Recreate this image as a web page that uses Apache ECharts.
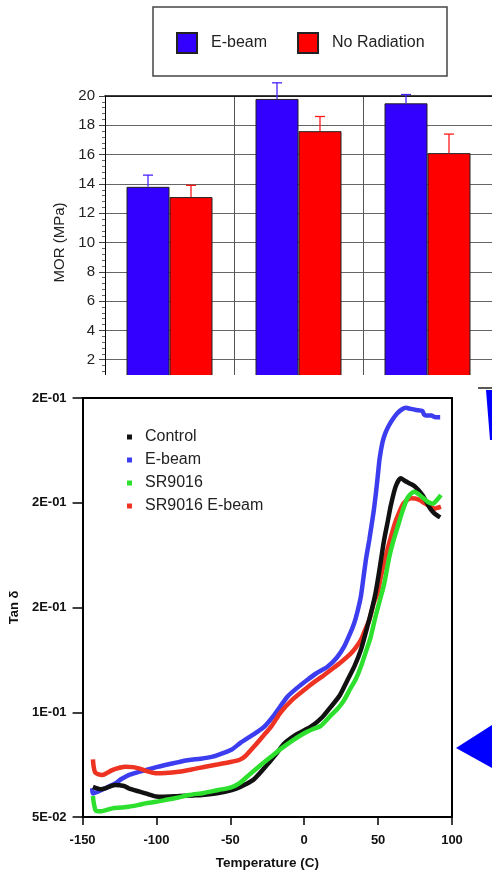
<!DOCTYPE html>
<html>
<head>
<meta charset="utf-8">
<script src="https://cdn.jsdelivr.net/npm/echarts@6/dist/echarts.min.js"></script>
<style>
  html, body { margin: 0; padding: 0; background: #fff; }
  #chart { width: 492px; height: 871px; }
</style>
</head>
<body>
<div id="chart"></div>
<script>
// ---- MOR bar data (MPa) ----
const categories = ['1', '2', '3'];
const ebeamMOR = [13.8, 19.8, 19.5];
const ebeamErr = [0.8, 1.1, 0.6];
const noRadMOR = [13.1, 17.6, 16.1];
const noRadErr = [0.8, 1.0, 1.3];

// ---- Tan delta vs temperature, [temperature (C), tan delta] ----
const tanTickLabels = ['5E-02', '1E-01', '2E-01', '2E-01', '2E-01'];

const controlTan = [
  [-143, 0.0644], [-138, 0.0633], [-134.7, 0.0637], [-128, 0.0653], [-122, 0.0648],
  [-118.8, 0.0637], [-112, 0.0622], [-107.5, 0.0613], [-100, 0.0598], [-96, 0.0597],
  [-85, 0.0600], [-75, 0.0603], [-69, 0.0605], [-60, 0.0612], [-53, 0.0621],
  [-46, 0.0635], [-40, 0.0655], [-34, 0.0680], [-25, 0.0750], [-18, 0.0810],
  [-13.6, 0.0850], [-5, 0.0895], [4.5, 0.0931], [12, 0.0975], [18, 0.1026],
  [24, 0.1080], [29.3, 0.1154], [34, 0.1220], [38.3, 0.1297], [42, 0.1390],
  [45, 0.1470], [48, 0.1560], [50, 0.1640], [52, 0.1730], [54, 0.1820],
  [56.5, 0.1910], [58.7, 0.1990], [62, 0.2080], [65.4, 0.2117], [68, 0.2105],
  [72, 0.2090], [75, 0.2077], [80, 0.2037], [85, 0.1975], [88, 0.1950], [92, 0.1930]
];

const ebeamTan = [
  [-143.5, 0.0637], [-143, 0.0612], [-140, 0.0620], [-134.7, 0.0637], [-128, 0.0660],
  [-124, 0.0680], [-118.8, 0.0700], [-112, 0.0715], [-107.5, 0.0724], [-100, 0.0738],
  [-94, 0.0748], [-85, 0.0762], [-78, 0.0772], [-70, 0.0778], [-62, 0.0788],
  [-55, 0.0805], [-49, 0.0822], [-43, 0.0855], [-37.5, 0.0880], [-32, 0.0905],
  [-27, 0.0931], [-20, 0.0990], [-11.4, 0.1074], [-5, 0.1115], [2, 0.1154],
  [8, 0.1185], [15.7, 0.1217], [22, 0.1260], [27, 0.1313], [31, 0.1375],
  [33.8, 0.1425], [36, 0.1480], [38.3, 0.1552], [40.6, 0.1670], [42, 0.1740],
  [44, 0.1822], [45.5, 0.1890], [47, 0.1960], [48.5, 0.2045], [49.8, 0.2130],
  [51, 0.2210], [53, 0.2290], [55, 0.2335], [57.5, 0.2371], [60, 0.2400],
  [63, 0.2427], [66, 0.2445], [68.8, 0.2453], [72, 0.2448], [75.6, 0.2443],
  [80, 0.2438], [81, 0.2422], [82.4, 0.2416], [86, 0.2416], [89, 0.2408], [92, 0.2408]
];

const sr9016Tan = [
  [-143, 0.0600], [-142.5, 0.0570], [-141, 0.0530], [-138, 0.0527], [-130, 0.0541],
  [-124, 0.0545], [-118.8, 0.0549], [-112, 0.0558], [-107.5, 0.0565], [-100, 0.0573],
  [-94, 0.0581], [-86, 0.0592], [-78, 0.0605], [-68, 0.0615], [-58, 0.0629],
  [-50, 0.0640], [-44, 0.0660], [-37.5, 0.0700], [-30, 0.0745], [-22, 0.0790],
  [-15.9, 0.0825], [-8, 0.0865], [0, 0.0900], [6, 0.0920], [11.2, 0.0935],
  [18, 0.0985], [23, 0.1020], [27, 0.1058], [31, 0.1110], [35, 0.1160],
  [38.3, 0.1217], [42, 0.1295], [45, 0.1360], [48, 0.1450], [51, 0.1530],
  [54, 0.1610], [57.5, 0.1740], [60, 0.1810], [63, 0.1880], [66.5, 0.1960],
  [70, 0.2025], [72.5, 0.2045], [74.5, 0.2053], [78, 0.2037], [81, 0.2020],
  [83.5, 0.2005], [87, 0.1996], [90, 0.2015], [92.5, 0.2037]
];

const sr9016EbeamTan = [
  [-143, 0.0775], [-142.5, 0.0740], [-141.5, 0.0712], [-139, 0.0703], [-137, 0.0700],
  [-133, 0.0712], [-130, 0.0724], [-125, 0.0735], [-121, 0.0740], [-116, 0.0738],
  [-112, 0.0732], [-106, 0.0718], [-100.8, 0.0709], [-94, 0.0710], [-85, 0.0716],
  [-76, 0.0727], [-67, 0.0740], [-58, 0.0752], [-49, 0.0764], [-44, 0.0772],
  [-40, 0.0790], [-34, 0.0836], [-28, 0.0885], [-22, 0.0935], [-15.9, 0.1000],
  [-8, 0.1060], [-0.1, 0.1106], [6, 0.1140], [12, 0.1170], [18, 0.1202],
  [25, 0.1240], [31.6, 0.1281], [35, 0.1310], [38.3, 0.1345], [41, 0.1390],
  [44, 0.1440], [47, 0.1520], [49.6, 0.1568], [52, 0.1650], [55, 0.1740],
  [58, 0.1820], [61, 0.1894], [64, 0.1950], [67, 0.1995], [70, 0.2015],
  [72.2, 0.2021], [75, 0.2020], [78, 0.2013], [81, 0.2000], [83.5, 0.1989],
  [86, 0.1978], [88, 0.1973], [92.5, 0.1982]
];

// ---- styling ----
const BAR_W = 43;
const BLUE_BAR = '#3300ff';
const RED_BAR = '#ff0000';
const FONT = '"Liberation Sans", Arial, Helvetica, sans-serif';

function errorBar(side, color) {
  return function (params, api) {
    const i = api.value(0), v = api.value(1), e = api.value(2);
    const base = api.coord([i, v]);
    const top = api.coord([i, v + e]);
    const x = base[0] + side * BAR_W / 2;
    return {
      type: 'group',
      children: [
        { type: 'line', shape: { x1: x, y1: base[1], x2: x, y2: top[1] }, style: { stroke: color, lineWidth: 1.3 } },
        { type: 'line', shape: { x1: x - 5, y1: top[1], x2: x + 5, y2: top[1] }, style: { stroke: color, lineWidth: 1.3 } }
      ]
    };
  };
}

function withIndex(vals, errs) {
  return vals.map((v, i) => [i, v, errs[i]]);
}

const chart = echarts.init(document.getElementById('chart'), null, { renderer: 'canvas' });

// tan delta curves: temperature axis (xAxis 2) and tan delta axis (yAxis 1)
const lineCommon = {
  type: 'line', xAxisIndex: 2, yAxisIndex: 1, showSymbol: false, smooth: 0.25,
  animation: false, z: 3
};

chart.setOption({
  animation: false,
  backgroundColor: '#ffffff',
  textStyle: { fontFamily: FONT },
  grid: [
    { left: 105, top: 96, width: 393, height: 293, containLabel: false },
    { left: 82, top: 398, width: 370, height: 419, containLabel: false }
  ],
  legend: [
    {
      data: ['E-beam', 'No Radiation'],
      left: 176, top: 32, orient: 'horizontal', padding: 0,
      icon: 'rect', itemWidth: 20, itemHeight: 20, itemGap: 30,
      textStyle: { fontSize: 16, color: '#222', fontFamily: FONT, padding: [0, 0, 0, 9] },
      selectedMode: false
    },
    {
      data: ['Control', 'E-beam ', 'SR9016', 'SR9016 E-beam'],
      formatter: n => n.trim(),
      left: 127, top: 429, orient: 'vertical', padding: 0,
      icon: 'rect', itemWidth: 5, itemHeight: 5, itemGap: 7,
      textStyle: { fontSize: 16, lineHeight: 16, color: '#222', fontFamily: FONT, padding: [0, 0, 0, 8] },
      selectedMode: false
    }
  ],
  xAxis: [
    {
      gridIndex: 0, type: 'category', data: categories,
      axisLine: { show: false }, axisTick: { show: false }, axisLabel: { show: false },
      splitLine: { show: true, lineStyle: { color: '#555', width: 1 } }
    },
    {
      gridIndex: 0, type: 'value', position: 'top', min: 0, max: 1,
      axisLine: { show: true, onZero: false, lineStyle: { color: '#000', width: 1.5 } },
      axisTick: { show: false }, axisLabel: { show: false }, splitLine: { show: false }
    },
    {
      gridIndex: 1, type: 'value', min: -150, max: 100, interval: 50, position: 'bottom',
      name: 'Temperature (C)', nameLocation: 'middle', nameGap: 39,
      nameTextStyle: { fontSize: 13.5, fontWeight: 'bold', color: '#111', fontFamily: FONT },
      axisLine: { show: true, onZero: false, lineStyle: { color: '#000', width: 2 } },
      axisTick: { show: true, length: 8, lineStyle: { color: '#000', width: 1.5 } },
      axisLabel: { fontSize: 13, fontWeight: 'bold', color: '#111', margin: 17, fontFamily: FONT },
      splitLine: { show: false }
    },
    {
      gridIndex: 1, type: 'value', position: 'top', min: 0, max: 1,
      axisLine: { show: true, onZero: false, lineStyle: { color: '#000', width: 2 } },
      axisTick: { show: false }, axisLabel: { show: false }, splitLine: { show: false }
    }
  ],
  yAxis: [
    {
      gridIndex: 0, type: 'value', min: 0, max: 20, interval: 2,
      name: 'MOR (MPa)', nameLocation: 'middle', nameGap: 28,
      nameTextStyle: { fontSize: 15, color: '#222', fontFamily: FONT },
      axisLine: { show: true, lineStyle: { color: '#000', width: 1 } },
      axisTick: { show: true, length: 6, lineStyle: { color: '#444' } },
      minorTick: { show: true, splitNumber: 5, length: 3, lineStyle: { color: '#666' } },
      axisLabel: { fontSize: 15, color: '#222', margin: 10, showMinLabel: false, fontFamily: FONT },
      splitLine: { show: true, lineStyle: { color: '#666', width: 1 } }
    },
    {
      gridIndex: 1, type: 'value', min: 0.05, max: 0.25, interval: 0.05,
      name: 'Tan δ', nameLocation: 'middle', nameGap: 50,
      nameTextStyle: { fontSize: 13, fontWeight: 'bold', color: '#111', fontFamily: FONT },
      axisLine: { show: true, onZero: false, lineStyle: { color: '#000', width: 2 } },
      axisTick: { show: true, length: 10, lineStyle: { color: '#000', width: 1.5 } },
      axisLabel: {
        fontSize: 13, fontWeight: 'bold', color: '#111', margin: 16, fontFamily: FONT,
        formatter: v => tanTickLabels[Math.round((v - 0.05) / 0.05)] || ''
      },
      splitLine: { show: false }
    },
    {
      gridIndex: 1, type: 'value', position: 'right', min: 0, max: 1,
      axisLine: { show: true, onZero: false, lineStyle: { color: '#000', width: 2 } },
      axisTick: { show: false }, axisLabel: { show: false }, splitLine: { show: false }
    }
  ],
  series: [
    {
      name: 'E-beam', type: 'bar', xAxisIndex: 0, yAxisIndex: 0,
      data: ebeamMOR, barWidth: BAR_W, barGap: '0%',
      itemStyle: { color: BLUE_BAR, borderColor: '#222', borderWidth: 1 }
    },
    {
      name: 'No Radiation', type: 'bar', xAxisIndex: 0, yAxisIndex: 0,
      data: noRadMOR, barWidth: BAR_W, barGap: '0%',
      itemStyle: { color: RED_BAR, borderColor: '#222', borderWidth: 1 }
    },
    {
      name: 'E-beam error', type: 'custom', xAxisIndex: 0, yAxisIndex: 0,
      data: withIndex(ebeamMOR, ebeamErr), encode: { x: 0, y: 1 },
      renderItem: errorBar(-1, '#4a22ff'), z: 5
    },
    {
      name: 'No Radiation error', type: 'custom', xAxisIndex: 0, yAxisIndex: 0,
      data: withIndex(noRadMOR, noRadErr), encode: { x: 0, y: 1 },
      renderItem: errorBar(1, '#ff1a1a'), z: 5
    },
    Object.assign({}, lineCommon, {
      name: 'E-beam ', data: ebeamTan, color: '#3d3df0',
      lineStyle: { width: 4.5, color: '#3d3df0' }
    }),
    Object.assign({}, lineCommon, {
      name: 'SR9016 E-beam', data: sr9016EbeamTan, color: '#ee3322',
      lineStyle: { width: 4.5, color: '#ee3322' }
    }),
    Object.assign({}, lineCommon, {
      name: 'Control', data: controlTan, color: '#111111',
      lineStyle: { width: 4.5, color: '#111111' }
    }),
    Object.assign({}, lineCommon, {
      name: 'SR9016', data: sr9016Tan, color: '#2ee02e',
      lineStyle: { width: 4.5, color: '#2ee02e' }
    })
  ],
  graphic: [
    // frame around the bar legend
    { type: 'rect', z: 10, shape: { x: 153, y: 7, width: 294, height: 69 },
      style: { fill: 'none', stroke: '#444', lineWidth: 1.5 } },
    // strip separating the two panels
    { type: 'rect', z: 50, shape: { x: 0, y: 375, width: 492, height: 16 },
      style: { fill: '#ffffff' } },
    { type: 'line', z: 51, shape: { x1: 478, y1: 388, x2: 492, y2: 388 },
      style: { stroke: '#222', lineWidth: 1.5 } },
    { type: 'polygon', z: 51, shape: { points: [[486, 390], [492, 390], [492, 440], [490, 440]] },
      style: { fill: '#0000ff' } },
    // pointer arrow on the right
    { type: 'polygon', z: 51, shape: { points: [[456, 748], [492, 725], [492, 768]] },
      style: { fill: '#0000ff' } }
  ]
});
</script>
</body>
</html>
